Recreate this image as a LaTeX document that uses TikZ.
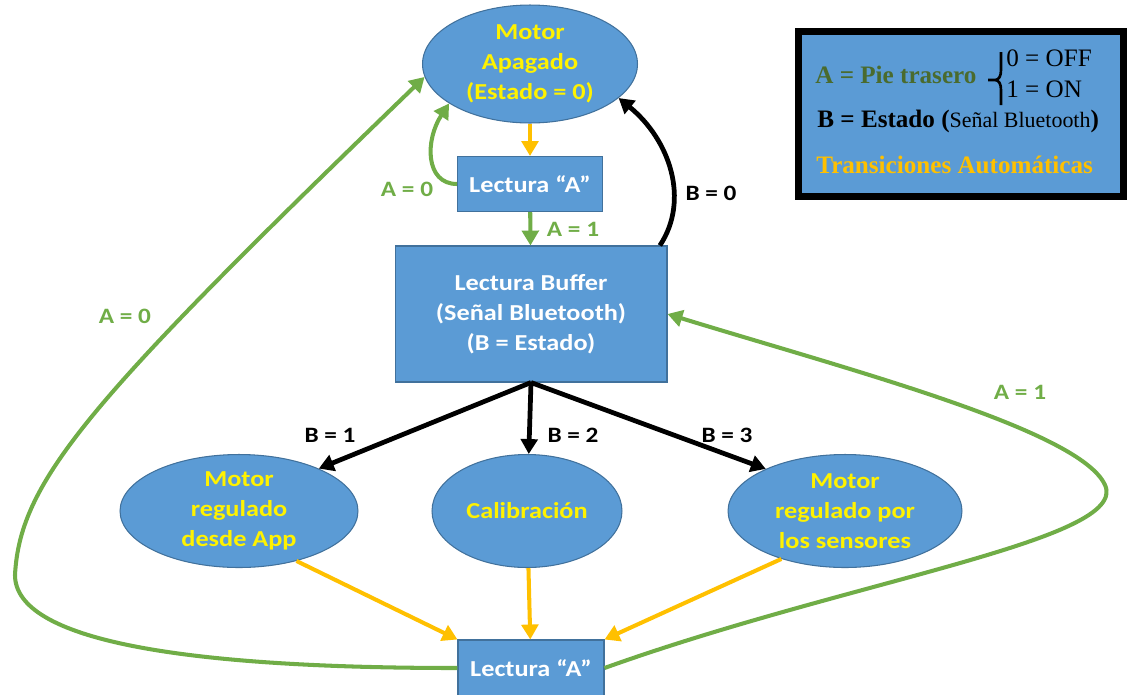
\documentclass[tikz,border=0pt]{standalone}
\usepackage{fontspec}
\setmainfont{Liberation Serif}
\newfontfamily\diagfont[FakeStretch=1.15]{Carlito}
\usetikzlibrary{shapes.geometric,arrows.meta}
\definecolor{offblue}{HTML}{5B9BD5}
\definecolor{offedge}{HTML}{41719C}
\definecolor{offgreen}{HTML}{70AD47}
\definecolor{offorange}{HTML}{FFC000}
\definecolor{leggreen}{HTML}{4A6B2E}
\tikzset{
  estado/.style={ellipse, draw=offedge, line width=0.6pt, fill=offblue, text=yellow, align=center, inner sep=-3pt, font=\diagfont\bfseries\fontsize{13}{17}\selectfont},
  lectura/.style={rectangle, draw=offedge, line width=0.6pt, fill=offblue, text=white, align=center, inner sep=0pt, font=\diagfont\bfseries\fontsize{13}{17}\selectfont},
  autoline/.style={->, draw=offorange, line width=2.3pt},
  condline/.style={->, draw=offgreen, line width=2.3pt},
  btline/.style={->, draw=black, line width=2.7pt},
  lbl/.style={font=\diagfont\bfseries\fontsize{12.5}{14}\selectfont},
  legtxt/.style={anchor=west, inner sep=0pt, font=\fontsize{14.3}{16}\selectfont}
}
\begin{document}
\begin{tikzpicture}[x=0.02cm, y=-0.02cm, >={Triangle[length=8.5pt,width=9.5pt]}]
\useasboundingbox (0,0) rectangle (1129,694);
\node[estado, minimum width=4.3cm, minimum height=2.36cm](Off) at (530,64) {Motor\\Apagado\\(Estado = 0)};
\node[lectura, minimum width=2.9cm, minimum height=1.1cm](LA1) at (530,184) {Lectura “A”};
\node[lectura, minimum width=5.44cm, minimum height=2.72cm](Buf) at (531,314) {Lectura Buffer\\(Señal Bluetooth)\\(B = Estado)};
\node[estado, minimum width=4.76cm, minimum height=2.26cm](App) at (239,511) {Motor\\regulado\\desde App};
\node[estado, minimum width=3.8cm, minimum height=2.26cm](Cal) at (527,511) {Calibración};
\node[estado, minimum width=4.68cm, minimum height=2.26cm](Sen) at (845,511) {Motor\\regulado por\\los sensores};
\node[lectura, minimum width=2.92cm, minimum height=1.12cm](LA2) at (531,668) {Lectura “A”};
\draw[autoline] (Off) -- (LA1);
\draw[condline] (LA1) -- (Buf);
\draw[condline] (LA1.west) .. controls (425,184) and (425,140) .. (Off.206);
\draw[btline] (Buf.28) .. controls (690,200) and (670,140) .. (Off.-21);
\draw[btline] (Buf.south) -- (App.28);
\draw[btline] (Buf.south) -- (Cal);
\draw[btline] (Buf.south) -- (Sen.152);
\draw[autoline] (App.-41) -- (LA2.north west);
\draw[autoline] (Cal) -- (LA2);
\draw[autoline] (Sen.217) -- (LA2.north east);
\draw[condline] (LA2.west) .. controls (180,668) and (15,640) .. (15,575) .. controls (20,480) and (90,400) .. (Off.187);
\draw[condline] (LA2.east) .. controls (850,580) and (1130,540) .. (1105,485) .. controls (1080,430) and (850,370) .. (Buf.east);
\node[lbl, text=offgreen](a0s) at (407,189) {A = 0};
\node[lbl, text=offgreen](a1s) at (573,229) {A = 1};
\node[lbl](b0) at (711,193) {B = 0};
\node[lbl](b1) at (330,435) {B = 1};
\node[lbl](b2) at (573,435) {B = 2};
\node[lbl](b3) at (727,435) {B = 3};
\node[lbl, text=offgreen](a0l) at (125,316) {A = 0};
\node[lbl, text=offgreen](a1l) at (1020,392) {A = 1};
\node[draw=black, line width=0.14cm, fill=offblue, minimum width=6.52cm, minimum height=3.3cm, inner sep=0pt](Leg) at (961,114) {};
\node[legtxt, text=leggreen](LegA) at (815,75) {\textbf{A = Pie trasero}};
\draw[line width=1.5pt] (988,80) -- (995,80) .. controls (999,80) and (1001,76) .. (1001,70) -- (1001,52)
  (995,80) .. controls (999,80) and (1001,84) .. (1001,90) -- (1001,105);
\node[legtxt](Off0) at (1006,58) {0 = OFF};
\node[legtxt](On1) at (1006,89) {1 = ON};
\node[legtxt](LegB) at (817,121) {\textbf{B = Estado (}{\fontsize{12.5}{14}\selectfont Señal Bluetooth}\textbf{)}};
\node[legtxt, text=offorange](LegT) at (816,165) {\textbf{Transiciones Automáticas}};
\end{tikzpicture}
\end{document}
